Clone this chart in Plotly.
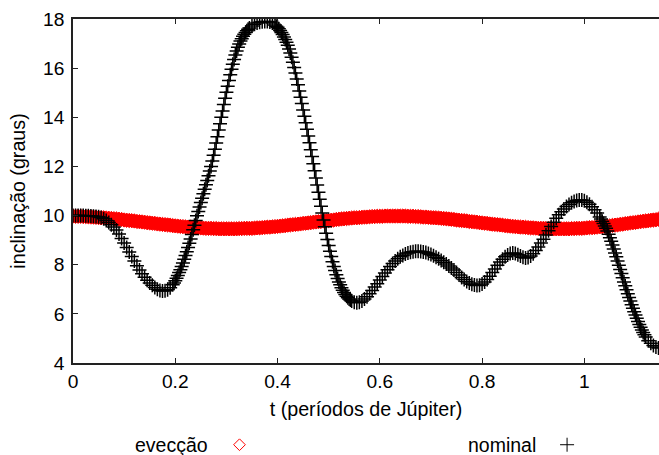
import plotly.graph_objects as go

# ---------------- evecção: time samples (períodos de Júpiter) ----------------
T_EVEC = [
    0.000, 0.005, 0.010, 0.015, 0.020, 0.025, 0.030, 0.035, 0.040, 0.045,
    0.050, 0.055, 0.060, 0.065, 0.070, 0.075, 0.080, 0.085, 0.090, 0.095,
    0.100, 0.105, 0.110, 0.115, 0.120, 0.125, 0.130, 0.135, 0.140, 0.145,
    0.150, 0.155, 0.160, 0.165, 0.170, 0.175, 0.180, 0.185, 0.190, 0.195,
    0.200, 0.205, 0.210, 0.215, 0.220, 0.225, 0.230, 0.235, 0.240, 0.245,
    0.250, 0.255, 0.260, 0.265, 0.270, 0.275, 0.280, 0.285, 0.290, 0.295,
    0.300, 0.305, 0.310, 0.315, 0.320, 0.325, 0.330, 0.335, 0.340, 0.345,
    0.350, 0.355, 0.360, 0.365, 0.370, 0.375, 0.380, 0.385, 0.390, 0.395,
    0.400, 0.405, 0.410, 0.415, 0.420, 0.425, 0.430, 0.435, 0.440, 0.445,
    0.450, 0.455, 0.460, 0.465, 0.470, 0.475, 0.480, 0.485, 0.490, 0.495,
    0.500, 0.505, 0.510, 0.515, 0.520, 0.525, 0.530, 0.535, 0.540, 0.545,
    0.550, 0.555, 0.560, 0.565, 0.570, 0.575, 0.580, 0.585, 0.590, 0.595,
    0.600, 0.605, 0.610, 0.615, 0.620, 0.625, 0.630, 0.635, 0.640, 0.645,
    0.650, 0.655, 0.660, 0.665, 0.670, 0.675, 0.680, 0.685, 0.690, 0.695,
    0.700, 0.705, 0.710, 0.715, 0.720, 0.725, 0.730, 0.735, 0.740, 0.745,
    0.750, 0.755, 0.760, 0.765, 0.770, 0.775, 0.780, 0.785, 0.790, 0.795,
    0.800, 0.805, 0.810, 0.815, 0.820, 0.825, 0.830, 0.835, 0.840, 0.845,
    0.850, 0.855, 0.860, 0.865, 0.870, 0.875, 0.880, 0.885, 0.890, 0.895,
    0.900, 0.905, 0.910, 0.915, 0.920, 0.925, 0.930, 0.935, 0.940, 0.945,
    0.950, 0.955, 0.960, 0.965, 0.970, 0.975, 0.980, 0.985, 0.990, 0.995,
    1.000, 1.005, 1.010, 1.015, 1.020, 1.025, 1.030, 1.035, 1.040, 1.045,
    1.050, 1.055, 1.060, 1.065, 1.070, 1.075, 1.080, 1.085, 1.090, 1.095,
    1.100, 1.105, 1.110, 1.115, 1.120, 1.125, 1.130, 1.135, 1.140, 1.145,
]

# inclinação (graus) - evecção
EVECCAO = [
    9.98, 9.97, 9.97, 9.97, 9.96, 9.96, 9.95, 9.94, 9.94, 9.93,
    9.92, 9.91, 9.91, 9.90, 9.89, 9.88, 9.87, 9.86, 9.85, 9.84,
    9.82, 9.81, 9.80, 9.79, 9.78, 9.76, 9.75, 9.74, 9.73, 9.71,
    9.70, 9.69, 9.68, 9.66, 9.65, 9.64, 9.63, 9.62, 9.61, 9.59,
    9.58, 9.57, 9.56, 9.55, 9.54, 9.53, 9.53, 9.52, 9.51, 9.50,
    9.50, 9.49, 9.48, 9.48, 9.48, 9.47, 9.47, 9.46, 9.46, 9.46,
    9.46, 9.46, 9.46, 9.46, 9.46, 9.47, 9.47, 9.48, 9.48, 9.48,
    9.48, 9.49, 9.50, 9.50, 9.51, 9.52, 9.53, 9.53, 9.54, 9.55,
    9.56, 9.57, 9.58, 9.59, 9.61, 9.62, 9.63, 9.64, 9.65, 9.66,
    9.68, 9.69, 9.70, 9.71, 9.73, 9.74, 9.75, 9.76, 9.78, 9.79,
    9.80, 9.81, 9.82, 9.84, 9.85, 9.86, 9.87, 9.88, 9.89, 9.90,
    9.91, 9.91, 9.92, 9.93, 9.94, 9.94, 9.95, 9.96, 9.96, 9.97,
    9.97, 9.97, 9.98, 9.98, 9.98, 9.98, 9.98, 9.98, 9.98, 9.98,
    9.98, 9.97, 9.97, 9.97, 9.96, 9.96, 9.95, 9.94, 9.94, 9.93,
    9.92, 9.91, 9.91, 9.90, 9.89, 9.88, 9.87, 9.86, 9.85, 9.84,
    9.82, 9.81, 9.80, 9.79, 9.78, 9.76, 9.75, 9.74, 9.73, 9.71,
    9.70, 9.69, 9.68, 9.66, 9.65, 9.64, 9.63, 9.62, 9.61, 9.59,
    9.58, 9.57, 9.56, 9.55, 9.54, 9.53, 9.53, 9.52, 9.51, 9.50,
    9.50, 9.49, 9.48, 9.48, 9.48, 9.47, 9.47, 9.46, 9.46, 9.46,
    9.46, 9.46, 9.46, 9.46, 9.46, 9.47, 9.47, 9.48, 9.48, 9.48,
    9.49, 9.50, 9.51, 9.51, 9.52, 9.53, 9.54, 9.55, 9.56, 9.57,
    9.58, 9.60, 9.61, 9.62, 9.64, 9.65, 9.67, 9.68, 9.70, 9.71,
    9.72, 9.74, 9.75, 9.77, 9.78, 9.79, 9.81, 9.82, 9.83, 9.85,
]

# ---------------- nominal: time samples (denser on the steep parts) ----------------
T_NOM = [
    0.000, 0.005, 0.010, 0.015, 0.020, 0.025, 0.030, 0.035, 0.040, 0.045,
    0.050, 0.055, 0.060, 0.065, 0.070, 0.075, 0.080, 0.085, 0.090, 0.095,
    0.100, 0.105, 0.110, 0.115, 0.120, 0.125, 0.130, 0.135, 0.140, 0.145,
    0.150, 0.155, 0.160, 0.165, 0.170, 0.175, 0.180, 0.185, 0.190,
    0.1950, 0.1975, 0.2000, 0.2025, 0.2050, 0.2075, 0.2100, 0.2125, 0.2150, 0.2175,
    0.2200, 0.2225, 0.2250, 0.2275, 0.2300, 0.2325, 0.2350, 0.2375, 0.2400, 0.2425,
    0.2450, 0.2475, 0.2500, 0.2525, 0.2550, 0.2575, 0.2600, 0.2625, 0.2650, 0.2675,
    0.2700, 0.2725, 0.2750, 0.2775, 0.2800, 0.2825, 0.2850, 0.2875, 0.2900, 0.2925,
    0.2950, 0.2975, 0.3000, 0.3025, 0.3050, 0.3075, 0.3100, 0.3125, 0.3150, 0.3175,
    0.3200, 0.3225, 0.3250, 0.3275, 0.3300, 0.3325, 0.3350, 0.3375, 0.3400, 0.3425,
    0.3450,
    0.350, 0.355, 0.360, 0.365, 0.370, 0.375, 0.380, 0.385, 0.390,
    0.3950, 0.3975, 0.4000, 0.4025, 0.4050, 0.4075, 0.4100, 0.4125, 0.4150, 0.4175,
    0.4200, 0.4225, 0.4250, 0.4275, 0.4300, 0.4325, 0.4350, 0.4375, 0.4400, 0.4425,
    0.4450, 0.4475, 0.4500, 0.4525, 0.4550, 0.4575, 0.4600, 0.4625, 0.4650, 0.4675,
    0.4700, 0.4725, 0.4750, 0.4775, 0.4800, 0.4825, 0.4850, 0.4875, 0.4900, 0.4925,
    0.4950, 0.4975, 0.5000, 0.5025, 0.5050, 0.5075, 0.5100, 0.5125, 0.5150, 0.5175,
    0.5200, 0.5225, 0.5250, 0.5275, 0.5300, 0.5325, 0.5350, 0.5375, 0.5400, 0.5425,
    0.5450,
    0.550, 0.555, 0.560, 0.565, 0.570, 0.575, 0.580, 0.585, 0.590, 0.595,
    0.600, 0.605, 0.610, 0.615, 0.620, 0.625, 0.630, 0.635, 0.640, 0.645,
    0.650, 0.655, 0.660, 0.665, 0.670, 0.675, 0.680, 0.685, 0.690, 0.695,
    0.700, 0.705, 0.710, 0.715, 0.720, 0.725, 0.730, 0.735, 0.740, 0.745,
    0.750, 0.755, 0.760, 0.765, 0.770, 0.775, 0.780, 0.785, 0.790, 0.795,
    0.800, 0.805, 0.810, 0.815, 0.820, 0.825, 0.830, 0.835, 0.840, 0.845,
    0.850, 0.855, 0.860, 0.865, 0.870, 0.875, 0.880, 0.885, 0.890, 0.895,
    0.900, 0.905, 0.910, 0.915, 0.920, 0.925, 0.930, 0.935, 0.940, 0.945,
    0.950, 0.955, 0.960, 0.965, 0.970, 0.975, 0.980, 0.985, 0.990, 0.995,
    1.000, 1.005, 1.010, 1.015, 1.020, 1.025,
    1.0300, 1.0325, 1.0350, 1.0375, 1.0400, 1.0425, 1.0450, 1.0475, 1.0500, 1.0525,
    1.0550, 1.0575, 1.0600, 1.0625, 1.0650, 1.0675, 1.0700, 1.0725, 1.0750, 1.0775,
    1.0800, 1.0825, 1.0850, 1.0875, 1.0900, 1.0925, 1.0950, 1.0975, 1.1000, 1.1025,
    1.1050, 1.1075, 1.1100, 1.1125, 1.1150, 1.1175, 1.1200,
    1.125, 1.130, 1.135, 1.140, 1.145,
]

# inclinação (graus) - nominal
NOMINAL = [
    10.00, 10.00, 10.00, 10.00, 10.00, 9.99, 9.99, 9.98, 9.97, 9.96,
    9.95, 9.92, 9.87, 9.80, 9.72, 9.63, 9.53, 9.41, 9.25, 9.07,
    8.88, 8.70, 8.52, 8.33, 8.15, 7.96, 7.78, 7.63, 7.49, 7.37,
    7.26, 7.16, 7.07, 7.00, 6.95, 6.93, 6.94, 6.98, 7.06,
    7.18, 7.26, 7.35, 7.45, 7.56, 7.68, 7.80, 7.93, 8.07, 8.22,
    8.37, 8.53, 8.70, 8.87, 9.05, 9.23, 9.42, 9.61, 9.80, 9.99,
    10.17, 10.35, 10.53, 10.71, 10.89, 11.07, 11.25, 11.43, 11.62, 11.81,
    12.00, 12.22, 12.45, 12.70, 12.95, 13.21, 13.48, 13.74, 14.00, 14.26,
    14.52, 14.77, 15.02, 15.26, 15.50, 15.73, 15.95, 16.16, 16.35, 16.53,
    16.70, 16.85, 16.98, 17.10, 17.20, 17.30, 17.38, 17.45, 17.52, 17.58,
    17.63,
    17.72, 17.79, 17.84, 17.87, 17.89, 17.90, 17.90, 17.88, 17.84,
    17.76, 17.71, 17.66, 17.60, 17.53, 17.45, 17.37, 17.27, 17.17, 17.05,
    16.93, 16.78, 16.62, 16.44, 16.24, 16.03, 15.80, 15.56, 15.32, 15.07,
    14.82, 14.56, 14.30, 14.04, 13.78, 13.51, 13.24, 12.96, 12.68, 12.40,
    12.11, 11.82, 11.53, 11.24, 10.95, 10.66, 10.38, 10.10, 9.82, 9.55,
    9.28, 9.03, 8.78, 8.55, 8.33, 8.12, 7.93, 7.76, 7.59, 7.44,
    7.30, 7.18, 7.06, 6.96, 6.87, 6.79, 6.72, 6.66, 6.60, 6.56,
    6.52,
    6.47, 6.45, 6.47, 6.52, 6.60, 6.70, 6.82, 6.95, 7.09, 7.23,
    7.38, 7.52, 7.66, 7.80, 7.93, 8.05, 8.15, 8.24, 8.32, 8.38,
    8.44, 8.48, 8.51, 8.53, 8.55, 8.55, 8.54, 8.52, 8.50, 8.46,
    8.42, 8.36, 8.30, 8.24, 8.17, 8.10, 8.03, 7.95, 7.87, 7.78,
    7.68, 7.58, 7.48, 7.40, 7.32, 7.26, 7.20, 7.17, 7.15, 7.16,
    7.22, 7.30, 7.40, 7.53, 7.68, 7.83, 7.98, 8.11, 8.22, 8.32,
    8.40, 8.46, 8.48, 8.46, 8.41, 8.35, 8.30, 8.27, 8.29, 8.35,
    8.45, 8.58, 8.72, 8.88, 9.04, 9.21, 9.38, 9.56, 9.73, 9.89,
    10.03, 10.16, 10.27, 10.37, 10.45, 10.52, 10.57, 10.61, 10.63, 10.63,
    10.60, 10.54, 10.46, 10.36, 10.24, 10.10,
    9.94, 9.86, 9.77, 9.68, 9.58, 9.48, 9.37, 9.24, 9.10, 8.95,
    8.80, 8.64, 8.48, 8.32, 8.15, 7.98, 7.81, 7.64, 7.47, 7.30,
    7.14, 6.98, 6.82, 6.67, 6.52, 6.37, 6.23, 6.09, 5.95, 5.82,
    5.69, 5.57, 5.45, 5.34, 5.24, 5.15, 5.06,
    4.91, 4.80, 4.71, 4.65, 4.61,
]

X_TICKS = [0, 0.2, 0.4, 0.6, 0.8, 1]
X_TICK_TEXT = ["0", "0.2", "0.4", "0.6", "0.8", "1"]
Y_TICKS = [4, 6, 8, 10, 12, 14, 16, 18]

assert len(T_EVEC) == len(EVECCAO)
assert len(T_NOM) == len(NOMINAL)

FONT = "Liberation Sans, Arial, sans-serif"

fig = go.Figure()

fig.add_trace(go.Scatter(
    x=T_EVEC, y=EVECCAO, mode="markers", showlegend=False,
    marker=dict(symbol="diamond", size=11, color="#ff0000",
                line=dict(color="#ff0000", width=1)),
))
fig.add_trace(go.Scatter(
    x=T_NOM, y=NOMINAL, mode="markers", showlegend=False,
    marker=dict(symbol="cross-thin-open", size=10, color="#000000",
                line=dict(color="#000000", width=1.5)),
))
# legend samples
fig.add_trace(go.Scatter(
    x=[None], y=[None], mode="markers", name=" ", legend="legend",
    marker=dict(symbol="diamond-open", size=9, color="#ff0000",
                line=dict(color="#ff0000", width=1)),
))
fig.add_trace(go.Scatter(
    x=[None], y=[None], mode="markers", name=" ", legend="legend2",
    marker=dict(symbol="cross-thin-open", size=10, color="#000000",
                line=dict(color="#000000", width=1)),
))

axis_common = dict(
    showgrid=False, zeroline=False, showline=True, linecolor="#222222",
    linewidth=1.5, ticks="inside", ticklen=5, tickwidth=1, tickcolor="#222222",
    tickfont=dict(family=FONT, size=19.2, color="#000000"),
    automargin=False,
)

fig.update_xaxes(
    range=[0, 1.146], tickvals=X_TICKS, ticktext=X_TICK_TEXT, mirror="ticks",
    title=dict(text="t (períodos de Júpiter)", standoff=11,
               font=dict(family=FONT, size=19.7, color="#000000")),
    **axis_common,
)
fig.update_yaxes(
    range=[4, 18], tickvals=Y_TICKS, ticklabelstandoff=3,
    title=dict(text="inclinação (graus)", standoff=12,
               font=dict(family=FONT, size=19.7, color="#000000")),
    **axis_common,
)

legend_common = dict(
    orientation="h", xanchor="left", yanchor="middle", y=-0.238,
    bgcolor="rgba(0,0,0,0)", font=dict(family=FONT, size=19),
    itemwidth=30,
)

fig.update_layout(
    width=659, height=455,
    margin=dict(l=73, r=0, t=19, b=92, autoexpand=False),
    plot_bgcolor="white", paper_bgcolor="white",
    font=dict(family=FONT, size=19, color="#000000"),
    legend=dict(x=0.250, **legend_common),
    legend2=dict(x=0.809, **legend_common),
    annotations=[
        dict(text="evecção", x=0.2334, y=-0.238, xref="paper", yref="paper",
             xanchor="right", yanchor="middle", showarrow=False,
             font=dict(family=FONT, size=19.5, color="#000000")),
        dict(text="nominal", x=0.7934, y=-0.238, xref="paper", yref="paper",
             xanchor="right", yanchor="middle", showarrow=False,
             font=dict(family=FONT, size=19.5, color="#000000")),
    ],
)

fig.write_html("out.html")
